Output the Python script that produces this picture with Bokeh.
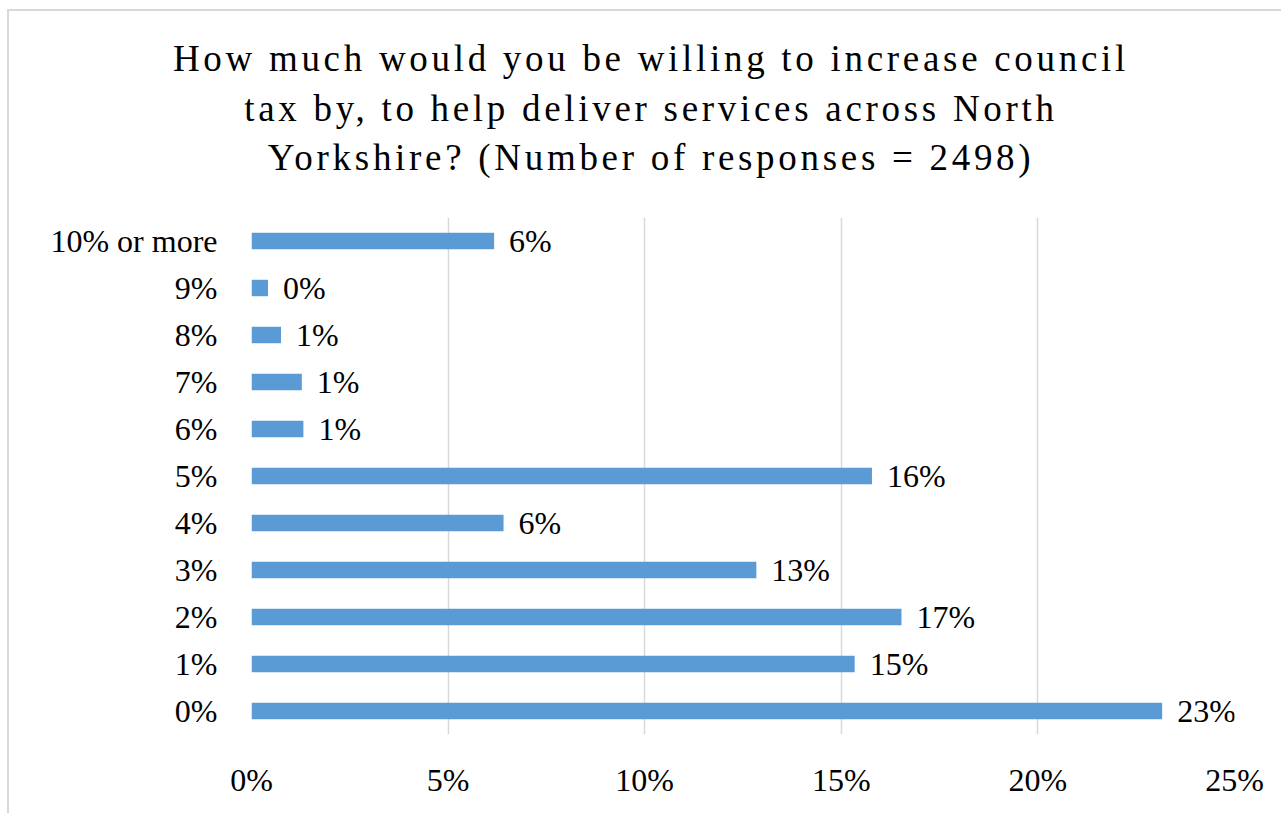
from bokeh.plotting import figure
from bokeh.models import ColumnDataSource, LabelSet, FixedTicker, Range1d, FactorRange, Div
from bokeh.layouts import column
from bokeh.embed import file_html
from bokeh.resources import INLINE

categories = ["0%", "1%", "2%", "3%", "4%", "5%", "6%", "7%", "8%", "9%", "10% or more"]
shares = [23.16, 15.34, 16.53, 12.84, 6.41, 15.78, 1.32, 1.28, 0.75, 0.42, 6.17]
share_labels = ["23%", "15%", "17%", "13%", "6%", "16%", "1%", "1%", "1%", "0%", "6%"]
x_ticks = [0, 5, 10, 15, 20, 25]
x_tick_labels = ["0%", "5%", "10%", "15%", "20%", "25%"]
title_lines = [
    "How much would you be willing to increase council",
    "tax by, to help deliver services across North",
    "Yorkshire? (Number of responses = 2498)",
]

FONT = "Liberation Serif"
W = 1272
TITLE_H = 190
PLOT_H = 612

source = ColumnDataSource(dict(cat=categories, val=shares, lab=share_labels))

title_html = (
    '<div style="width:%dpx;box-sizing:border-box;padding-top:23px;padding-left:12px;'
    'text-align:center;font-family:\'Liberation Serif\';font-size:37px;'
    'line-height:49.5px;letter-spacing:3.7px;color:#000000;">%s</div>'
    % (W, "<br>".join(title_lines))
)
title_div = Div(text=title_html, width=W, height=TITLE_H, margin=(0, 0, 0, 0))

p = figure(
    width=W, height=PLOT_H,
    y_range=FactorRange(*categories),
    x_range=Range1d(0, 25),
    output_backend="svg", toolbar_location=None,
    min_border_left=242, min_border_right=47,
    min_border_top=16, min_border_bottom=79,
    margin=(0, 0, 0, 0),
)
p.outline_line_color = None
p.background_fill_color = "white"
p.border_fill_color = "white"

p.hbar(y="cat", right="val", left=0, height=0.35, source=source,
       fill_color="#5B9BD5", line_color=None)

p.add_layout(LabelSet(x="val", y="cat", text="lab", source=source,
                      x_offset=15, text_baseline="middle", text_align="left",
                      text_font=FONT, text_font_size="32px", text_color="#000000"))

p.xaxis.ticker = FixedTicker(ticks=x_ticks)
p.xaxis.major_label_overrides = {t: l for t, l in zip(x_ticks, x_tick_labels)}
for ax in (p.xaxis, p.yaxis):
    ax.axis_line_color = None
    ax.major_tick_line_color = None
    ax.minor_tick_line_color = None
    ax.major_label_text_font = FONT
    ax.major_label_text_font_size = "32px"
    ax.major_label_text_color = "#000000"
p.xaxis.major_label_standoff = 21
p.yaxis.major_label_standoff = 28

p.xgrid.grid_line_color = "#d9d9d9"
p.xgrid.grid_line_width = 1.5
p.ygrid.grid_line_color = None

layout = column(title_div, p, spacing=0)
layout.styles = {
    "border-top": "2px solid #d9d9d9",
    "border-left": "2px solid #d9d9d9",
    "margin-left": "7px",
    "margin-top": "9px",
    "background-color": "white",
}

open("out.html", "w").write(file_html(layout, INLINE))
